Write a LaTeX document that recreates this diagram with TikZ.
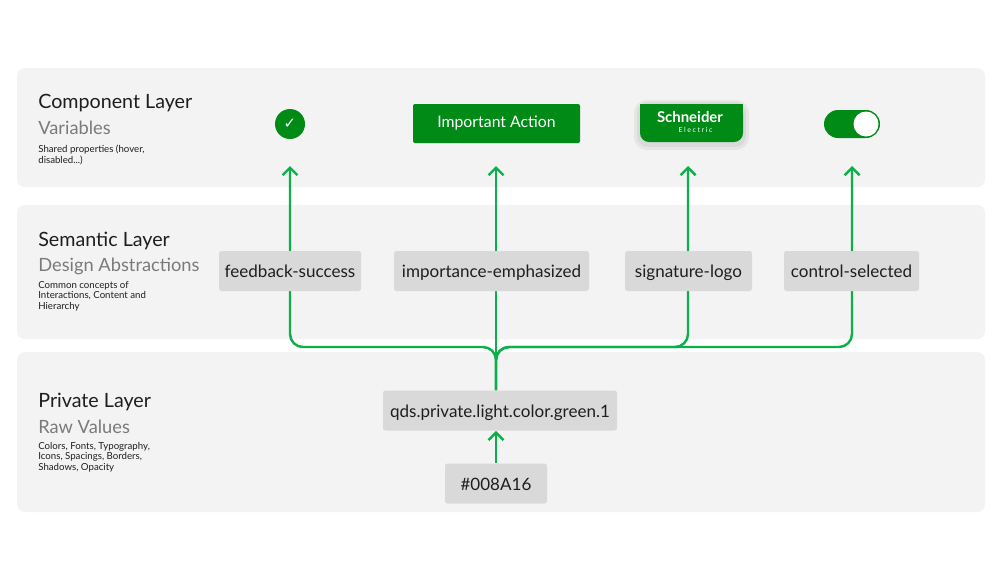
\documentclass[tikz,border=0pt]{standalone}
\usepackage{fontspec}
\setmainfont{Lato}
\newfontfamily\symfont{DejaVu Sans}
\usetikzlibrary{arrows.meta}
\newcommand{\pix}{0.02cm}
\definecolor{sgreen}{HTML}{008A16}
\definecolor{lgreen}{HTML}{0CB04A}
\definecolor{bandgray}{HTML}{F3F3F3}
\definecolor{tokgray}{HTML}{D9D9D9}
\definecolor{subgray}{HTML}{7A7A7A}
\definecolor{inkgray}{HTML}{1E1E1E}

\begin{document}
\begin{tikzpicture}[x=0.02cm,y=-0.02cm,
    title/.style={anchor=west,inner sep=0pt,text=inkgray,font=\fontsize{11.2}{13}\selectfont},
    subtitle/.style={anchor=west,inner sep=0pt,text=subgray,font=\fontsize{10.4}{12}\selectfont},
    note/.style={anchor=west,inner sep=0pt,align=left,text=inkgray,font=\fontsize{5.5}{6}\selectfont},
    token/.style={fill=tokgray,rounded corners=0.05cm,inner sep=0pt,minimum height=40*\pix,text height=8.6pt,text depth=1pt,text=inkgray,font=\fontsize{9.7}{11}\selectfont},
    flow/.style={draw=lgreen,line width=1.4pt,-{Straight Barb[length=1.5mm,width=3mm,line width=1.4pt]}},
    fork/.style={flow,rounded corners=0.26cm}]
    \useasboundingbox (0,0) rectangle (1000,562);
    % layers
    \fill[bandgray,rounded corners=0.16cm] (17,68) rectangle (985,187);
    \fill[bandgray,rounded corners=0.16cm] (17,205) rectangle (985,339);
    \fill[bandgray,rounded corners=0.16cm] (17,352) rectangle (985,512);
    % layer texts
    \node[title] (comp) at (38,103) {Component Layer};
    \node[subtitle] (compsub) at (38,128) {Variables};
    \node[note] (compnote) at (38,155) {Shared properties (hover,\\disabled...)};
    \node[title] (sem) at (38,241) {Semantic Layer};
    \node[subtitle] (semsub) at (38,266) {Design Abstractions};
    \node[note] (semnote) at (38,296) {Common concepts of\\Interactions, Content and\\Hierarchy};
    \node[title] (priv) at (38,402) {Private Layer};
    \node[subtitle] (privsub) at (38,427) {Raw Values};
    \node[note] (privnote) at (38,457) {Colors, Fonts, Typography,\\Icons, Spacings, Borders,\\Shadows, Opacity};
    % components
    \node[circle,fill=sgreen,minimum size=30*\pix,inner sep=0pt,text=white,font=\symfont\fontsize{8.5}{8.5}\selectfont] (check) at (290,124) {✓};
    \node[fill=sgreen,rounded corners=0.04cm,minimum width=167*\pix,minimum height=39*\pix,inner sep=0pt,text=white,font=\fontsize{9}{10}\selectfont] (button) at (496.5,123.5) {Important Action};
    % soft shadow of the logo
    \fill[black,opacity=0.05,rounded corners=0.26cm] (634,100) rectangle (749,150);
    \fill[black,opacity=0.05,rounded corners=0.22cm] (637,102) rectangle (746,147);
    \node[fill=sgreen,rounded corners=0.18cm,minimum width=103*\pix,minimum height=38*\pix,inner sep=0pt] (logo) at (691.5,123) {};
    \fill[sgreen] (logo.north west) rectangle (743,120);
    \node[inner sep=0pt,align=left,text=white,font=\fontsize{8.5}{6}\selectfont] (logotext) at (690,122) {{\bfseries Schneider}\\\hspace*{1.45em}{\fontsize{4}{4}\selectfont\addfontfeature{LetterSpace=22}Electric}};
    \node[fill=sgreen,rounded corners=0.28cm,minimum width=56*\pix,minimum height=28*\pix,inner sep=0pt] (toggle) at (852,124) {};
    \node[circle,fill=white,minimum size=25*\pix,inner sep=0pt] (knob) at (866,124) {};
    % arrow tips
    \coordinate (t1) at (290,166);
    \coordinate (t2) at (496,166);
    \coordinate (t3) at (688,166);
    \coordinate (t4) at (852,166);
    \coordinate (split) at (496,347);
    % raw values
    \node[token,minimum width=234*\pix] (qds) at (500,410.5) {qds.private.light.color.green.1};
    \node[token,minimum width=102*\pix] (hex) at (496,483.5) {\#008A16};
    % connectors
    \draw[flow] (hex.north) -- (hex.north |- qds.south);
    \draw[flow] (hex.north |- qds.north) -- (t2);
    \draw[fork] (hex.north |- qds.north) -- (split) -- (split -| t1) -- (t1);
    \draw[fork] (hex.north |- qds.north) -- (split) -- (split -| t3) -- (t3);
    \draw[fork] (hex.north |- qds.north) -- (split) -- (split -| t4) -- (t4);
    % semantic tokens
    \node[token,minimum width=142*\pix] (success) at (290,271) {feedback-success};
    \node[token,minimum width=195*\pix] (emph) at (491.5,271) {importance-emphasized};
    \node[token,minimum width=127*\pix] (sig) at (688.5,271) {signature-logo};
    \node[token,minimum width=135*\pix] (ctrl) at (851.5,271) {control-selected};
\end{tikzpicture}
\end{document}
